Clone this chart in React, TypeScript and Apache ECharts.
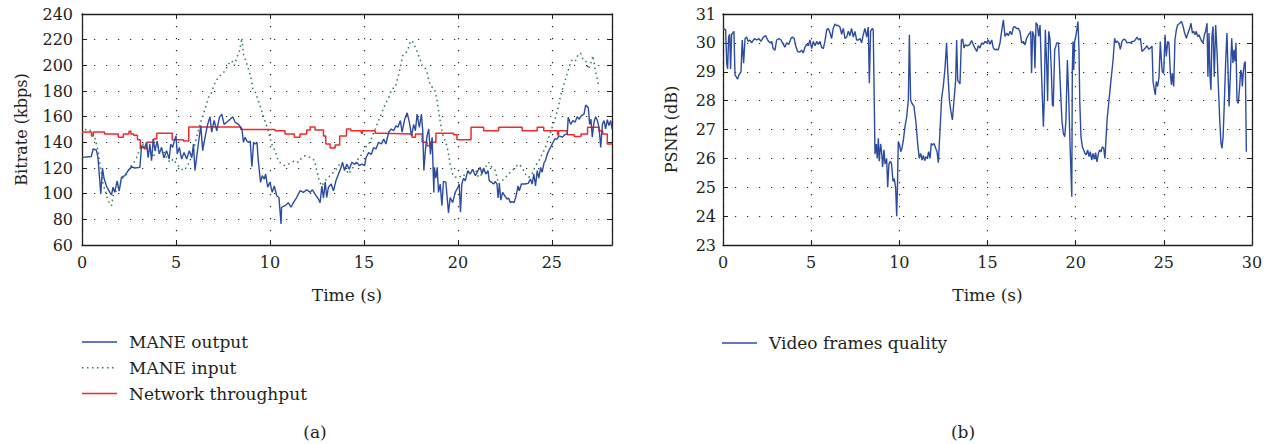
import React, { useEffect, useRef } from "react";
import * as echarts from "echarts";

const FONT = "DejaVu Serif";
const TXT = "#231f20";

// Left panel (a)
const bitrateTicks = { min: 60, max: 240, interval: 20 };
const timeMaxA = 28.2;

const maneOutput: [number, number][] = [
  [0, 128.3], [0.5, 129], [0.59, 134.8], [0.77, 134], [0.85, 128], [1.0, 99.7], [1.09, 120], [1.17, 112], [1.3, 106], [1.48, 101],
  [1.57, 99], [1.65, 105], [1.74, 101], [1.87, 110], [1.98, 102], [2.1, 112.7], [2.28, 114], [2.46, 118], [2.63, 121], [2.81, 120],
  [3.08, 120.5], [3.17, 137.4], [3.35, 136], [3.43, 140], [3.52, 128], [3.61, 138.7], [3.7, 125.7], [3.79, 142.6], [3.88, 133.5], [4.0, 141],
  [4.11, 131], [4.23, 136], [4.36, 128], [4.5, 133.5], [4.64, 127], [4.72, 138.7], [4.82, 136], [4.91, 141], [5.0, 145], [5.07, 131],
  [5.18, 136], [5.3, 127], [5.43, 132], [5.57, 127], [5.71, 133.5], [5.84, 128], [5.93, 138.7], [6.01, 118], [6.19, 138.7], [6.32, 153],
  [6.42, 133.5], [6.55, 144], [6.67, 153], [6.81, 160], [6.9, 148], [7.03, 157], [7.17, 149], [7.31, 159.5], [7.44, 162], [7.56, 154],
  [7.7, 155.6], [7.88, 158], [8.02, 160], [8.15, 155.6], [8.33, 154], [8.51, 150.4], [8.59, 140], [8.68, 144], [8.77, 141], [8.86, 140],
  [8.95, 141], [9.04, 121], [9.13, 140], [9.22, 138.7], [9.31, 140], [9.38, 125.7], [9.5, 108.8], [9.59, 114], [9.7, 111.4], [9.77, 115.3],
  [9.88, 105], [10.0, 109], [10.12, 101], [10.23, 106], [10.36, 98.4], [10.48, 97], [10.59, 76.4], [10.62, 89.4], [10.8, 90.6], [10.98, 93],
  [11.12, 89.4], [11.25, 93], [11.42, 97], [11.6, 102.3], [11.78, 101], [11.96, 103], [12.14, 101], [12.26, 103], [12.4, 99.7], [12.58, 95.8],
  [12.67, 93], [12.76, 106], [12.85, 96.6], [12.94, 109], [13.02, 97], [13.11, 105], [13.26, 107.5], [13.38, 102.3], [13.51, 110], [13.65, 115.3],
  [13.79, 120.5], [13.86, 124.4], [13.97, 118], [14.09, 123], [14.22, 119], [14.36, 124.4], [14.5, 123], [14.63, 124.4], [14.75, 121.8], [14.89, 123],
  [15.04, 121.8], [15.11, 128], [15.25, 132], [15.39, 130.6], [15.52, 136], [15.64, 134.8], [15.78, 140], [15.93, 138.7], [16.05, 142.6], [16.17, 138.7],
  [16.32, 148], [16.46, 150.4], [16.58, 149], [16.71, 153], [16.81, 151.7], [16.94, 157], [17.03, 148], [17.17, 158], [17.3, 163], [17.42, 155.6],
  [17.53, 145], [17.65, 154], [17.74, 149], [17.83, 162], [17.95, 151.7], [18.06, 162], [18.13, 149], [18.19, 118], [18.27, 133.5], [18.36, 145],
  [18.45, 150.4], [18.54, 130.6], [18.63, 144], [18.72, 101], [18.75, 120.5], [18.83, 112], [18.9, 120.5], [18.97, 101], [19.06, 107.5], [19.15, 90.6],
  [19.23, 109.5], [19.36, 109], [19.43, 97], [19.5, 85], [19.59, 97], [19.72, 93], [19.86, 101], [20.0, 105], [20.07, 107.5], [20.14, 85.5],
  [20.21, 107.5], [20.3, 112], [20.39, 110], [20.53, 118], [20.66, 115.3], [20.78, 119], [20.93, 114], [21.07, 118], [21.19, 120.5], [21.28, 115.3],
  [21.37, 120], [21.49, 115.3], [21.6, 118], [21.67, 110], [21.78, 109], [21.9, 107.5], [21.99, 109.5], [22.08, 107.5], [22.14, 96.6], [22.21, 107.5],
  [22.28, 95], [22.38, 101], [22.49, 98.4], [22.62, 95.8], [22.7, 96.6], [22.79, 93], [22.88, 93.8], [22.99, 93], [23.1, 98.4], [23.2, 106],
  [23.27, 102.3], [23.38, 107.5], [23.56, 107.5], [23.74, 108], [23.86, 111.4], [23.95, 107.5], [24.04, 115.3], [24.13, 106], [24.22, 118], [24.31, 112],
  [24.4, 120.5], [24.48, 116.6], [24.59, 124.4], [24.66, 125.7], [24.75, 130.6], [24.84, 133.5], [24.93, 136], [25.02, 138.7], [25.16, 142.6], [25.28, 142.6],
  [25.37, 145], [25.55, 144], [25.69, 146], [25.82, 146.5], [25.87, 159.5], [26.0, 154], [26.12, 157], [26.23, 155.6], [26.35, 160], [26.44, 158],
  [26.58, 160.8], [26.71, 162], [26.8, 169], [26.94, 167], [27.01, 154], [27.08, 158], [27.15, 144], [27.24, 155.6], [27.33, 160], [27.42, 157],
  [27.51, 151.7], [27.6, 136], [27.69, 154], [27.78, 157], [27.86, 150.4], [27.95, 157.6], [28.04, 153], [28.13, 157], [28.2, 150.4],
];

const maneInput: [number, number][] = [
  [0, 146.5], [0.23, 150.4], [0.5, 149], [0.68, 144], [0.85, 133.5], [0.98, 120.5], [1.12, 107.5], [1.26, 101], [1.39, 94.5], [1.57, 90.6],
  [1.65, 98.4], [1.83, 102.3], [2.01, 107.5], [2.19, 112.7], [2.37, 115.3], [2.54, 120.5], [2.72, 123], [2.9, 128], [3.08, 134.8], [3.26, 138.7],
  [3.43, 136], [3.61, 133.5], [3.79, 128], [3.97, 136], [4.15, 137.4], [4.32, 133.5], [4.5, 128], [4.68, 124.4], [4.86, 127], [5.04, 123],
  [5.21, 120.5], [5.39, 118], [5.57, 120.5], [5.75, 125.7], [5.93, 133.5], [6.1, 144], [6.28, 154], [6.46, 162], [6.6, 168.6], [6.73, 175],
  [6.9, 179], [7.08, 186.8], [7.26, 190.6], [7.44, 193.2], [7.62, 195.8], [7.79, 201], [7.97, 203.6], [8.1, 199.7], [8.24, 206.2], [8.38, 211.4],
  [8.51, 221.3], [8.59, 208.8], [8.74, 202.3], [8.86, 197], [8.99, 190.6], [9.09, 181.6], [9.2, 180], [9.38, 172.5], [9.56, 164.7], [9.73, 157],
  [9.91, 149], [10.09, 138.7], [10.27, 133.5], [10.44, 125.7], [10.62, 123], [10.8, 121.8], [10.98, 123], [11.16, 124.4], [11.33, 125.7], [11.51, 124.4],
  [11.69, 128], [11.87, 129.6], [12.05, 128.6], [12.22, 128], [12.37, 125.7], [12.49, 118], [12.62, 110], [12.76, 106], [12.94, 110], [13.11, 112.7],
  [13.29, 115.3], [13.47, 118], [13.65, 121.8], [13.83, 124.4], [14.0, 120.5], [14.18, 115.3], [14.36, 119], [14.54, 123], [14.72, 128], [14.89, 130.6],
  [15.07, 136], [15.25, 138.7], [15.43, 144], [15.6, 150.4], [15.78, 157], [15.96, 163.4], [16.14, 169.9], [16.32, 175], [16.49, 181.6], [16.67, 182.9],
  [16.81, 190.6], [16.94, 198.4], [17.06, 207.5], [17.21, 208.8], [17.35, 212.7], [17.47, 219.2], [17.6, 218], [17.74, 214], [17.88, 208.8], [18.01, 203.6],
  [18.1, 199.7], [18.24, 198.4], [18.36, 194.5], [18.45, 188], [18.59, 183.4], [18.75, 181.6], [18.88, 173.8], [19.0, 162], [19.11, 151.7], [19.23, 144],
  [19.36, 140], [19.47, 133.5], [19.59, 123], [19.72, 115.3], [19.86, 112.7], [20.04, 114], [20.21, 112.7], [20.39, 115.3], [20.57, 116.6], [20.75, 118],
  [20.93, 119], [21.1, 112.7], [21.28, 115.3], [21.46, 120.5], [21.64, 124.4], [21.81, 120.5], [21.99, 118], [22.17, 107.5], [22.35, 110], [22.53, 112.7],
  [22.7, 115.3], [22.88, 118], [23.06, 120.5], [23.24, 123], [23.42, 120.5], [23.59, 115.3], [23.77, 112.7], [23.95, 115.3], [24.13, 121.8], [24.31, 125.7],
  [24.48, 130.6], [24.66, 136], [24.84, 144], [25.02, 151.7], [25.2, 159.5], [25.34, 167.3], [25.46, 176.4], [25.59, 182.9], [25.73, 189.4], [25.87, 195.8],
  [26.0, 202.3], [26.12, 204.9], [26.26, 203.6], [26.41, 208.8], [26.53, 209.4], [26.65, 204.9], [26.8, 203.6], [26.94, 197], [27.06, 201], [27.19, 207.5],
  [27.3, 197], [27.42, 189.4], [27.47, 185.5],
];

const networkThroughput: [number, number][] = [
  [0, 148], [0.5, 145], [0.6, 148], [1.2, 146.5], [1.93, 144], [2.2, 146.5], [2.5, 148.6], [2.6, 146.5], [2.75, 145.5], [2.95, 142],
  [3.1, 136], [3.3, 135], [3.45, 140], [3.8, 142.6], [3.98, 147], [4.8, 142], [5.4, 141], [5.68, 152], [8.45, 150], [10.27, 149],
  [10.8, 146.5], [11.3, 144], [11.6, 146.5], [11.96, 149.6], [12.14, 152], [12.4, 149.6], [12.85, 145], [12.97, 138.7], [13.2, 135.6], [13.47, 138],
  [13.71, 145], [14.07, 150.4], [14.3, 149], [14.86, 147], [14.92, 149], [15.6, 147], [15.96, 146.5], [17.56, 144], [17.74, 146.5], [18.1, 140],
  [18.36, 137.4], [18.54, 140], [18.83, 147], [19.77, 146], [19.95, 142], [20.7, 151.7], [21.37, 149], [22.17, 151.7], [23.42, 149], [24.22, 151.7],
  [24.57, 149], [25.3, 146], [25.36, 149], [25.82, 146], [26.2, 144.5], [26.55, 146.5], [26.9, 151.7], [27.5, 149], [27.7, 146.5], [27.95, 138.7],
  [28.2, 138.7],
];

// Right panel (b)
const psnrTicks = { min: 23, max: 31, interval: 1 };
const timeMaxB = 30;

const videoQuality: [number, number][] = [
  [0, 30.5], [0.05, 30.5], [0.15, 30.45], [0.21, 29.3], [0.26, 29.1], [0.32, 30.2], [0.38, 30.3], [0.43, 29.1], [0.49, 30.3], [0.57, 30.35],
  [0.62, 30.4], [0.68, 28.9], [0.77, 28.8], [0.83, 28.75], [0.91, 28.9], [1.02, 29.0], [1.09, 30.1], [1.17, 29.3], [1.25, 30.15], [1.34, 30.2],
  [1.43, 30.05], [1.53, 30.1], [1.62, 30.0], [1.78, 30.15], [1.91, 30.1], [2.04, 30.15], [2.15, 30.05], [2.29, 30.2], [2.42, 30.25], [2.53, 30.1],
  [2.66, 30.0], [2.76, 30.05], [2.85, 29.8], [2.95, 29.75], [3.04, 30.1], [3.17, 30.15], [3.29, 30.1], [3.42, 29.95], [3.51, 29.85], [3.61, 30.0],
  [3.74, 29.95], [3.85, 30.15], [3.93, 30.2], [4.04, 30.15], [4.12, 29.9], [4.23, 29.7], [4.36, 29.68], [4.46, 29.75], [4.55, 29.65], [4.65, 29.85],
  [4.74, 29.95], [4.84, 29.9], [4.93, 30.1], [5.03, 29.8], [5.12, 30.05], [5.22, 29.9], [5.31, 30.05], [5.4, 29.95], [5.5, 30.05], [5.59, 29.85],
  [5.69, 29.8], [5.78, 30.05], [5.88, 30.45], [5.97, 30.5], [6.07, 30.35], [6.16, 30.15], [6.25, 30.5], [6.35, 30.65], [6.44, 30.6], [6.54, 30.6],
  [6.63, 30.55], [6.73, 30.3], [6.82, 30.5], [6.92, 30.15], [7.01, 30.2], [7.11, 30.4], [7.2, 30.25], [7.29, 30.5], [7.39, 30.2], [7.48, 30.4],
  [7.58, 30.1], [7.67, 30.1], [7.77, 30.15], [7.86, 30.0], [7.96, 30.3], [8.05, 30.5], [8.15, 30.2], [8.24, 30.55], [8.3, 28.6], [8.37, 30.4],
  [8.47, 30.5], [8.52, 30.45], [8.62, 26.15], [8.69, 26.5], [8.75, 26.0], [8.81, 26.7], [8.86, 25.9], [8.94, 26.5], [9.0, 26.2], [9.05, 25.7],
  [9.13, 26.3], [9.19, 25.8], [9.28, 26.0], [9.34, 25.0], [9.41, 25.8], [9.49, 25.9], [9.56, 25.8], [9.64, 25.2], [9.71, 25.3], [9.79, 25.0],
  [9.85, 24.0], [9.89, 24.9], [9.94, 26.58], [10.0, 26.5], [10.08, 26.23], [10.15, 26.35], [10.23, 26.64], [10.32, 27.1], [10.42, 27.45], [10.51, 28.02],
  [10.57, 30.28], [10.64, 28.02], [10.72, 27.9], [10.83, 27.8], [10.95, 27.2], [11.04, 26.5], [11.13, 26.0], [11.21, 26.17], [11.29, 25.94], [11.36, 26.1],
  [11.44, 25.92], [11.51, 26.06], [11.59, 26.0], [11.66, 26.23], [11.74, 26.0], [11.81, 26.52], [11.89, 26.46], [11.97, 26.52], [12.06, 26.35], [12.14, 26.23],
  [12.21, 25.85], [12.31, 27.0], [12.4, 28.08], [12.5, 28.54], [12.59, 29.12], [12.68, 30.0], [12.74, 29.1], [12.84, 28.02], [12.91, 27.68], [13.01, 27.33],
  [13.1, 28.02], [13.19, 28.66], [13.25, 30.1], [13.31, 28.7], [13.36, 28.66], [13.44, 28.58], [13.52, 30.1], [13.59, 30.13], [13.67, 29.82], [13.74, 29.93],
  [13.86, 29.9], [13.97, 29.93], [14.1, 30.08], [14.2, 29.93], [14.29, 29.82], [14.39, 29.7], [14.48, 29.9], [14.57, 29.82], [14.67, 30.0], [14.76, 29.95],
  [14.86, 30.05], [14.95, 30.0], [15.05, 30.1], [15.14, 29.95], [15.24, 30.1], [15.33, 29.82], [15.43, 29.76], [15.52, 29.78], [15.61, 29.76], [15.71, 30.0],
  [15.8, 30.4], [15.9, 30.8], [15.99, 30.22], [16.09, 30.34], [16.18, 30.25], [16.28, 30.4], [16.37, 30.28], [16.47, 30.54], [16.56, 30.56], [16.65, 30.5],
  [16.75, 30.5], [16.84, 30.4], [16.94, 30.0], [17.03, 30.05], [17.13, 29.93], [17.22, 30.16], [17.32, 30.28], [17.41, 30.34], [17.45, 30.4], [17.5, 28.95],
  [17.56, 30.4], [17.64, 30.22], [17.69, 29.12], [17.75, 30.7], [17.83, 30.62], [17.9, 30.22], [17.98, 30.62], [18.07, 28.83], [18.17, 27.1], [18.22, 28.02],
  [18.28, 30.45], [18.36, 29.18], [18.41, 28.02], [18.47, 30.4], [18.54, 30.16], [18.62, 29.06], [18.68, 27.85], [18.73, 27.8], [18.81, 29.76], [18.87, 29.87],
  [18.92, 30.0], [19.02, 30.0], [19.07, 29.41], [19.15, 28.25], [19.22, 27.33], [19.3, 26.87], [19.38, 26.75], [19.45, 27.33], [19.53, 29.41], [19.6, 28.25],
  [19.68, 26.52], [19.78, 24.67], [19.81, 29.06], [19.85, 30.05], [19.89, 29.06], [19.94, 30.05], [20.0, 30.2], [20.08, 30.5], [20.13, 30.74], [20.19, 29.76],
  [20.23, 28.02], [20.3, 26.75], [20.38, 26.4], [20.45, 26.29], [20.53, 26.17], [20.6, 26.12], [20.68, 26.29], [20.76, 26.06], [20.83, 26.23], [20.91, 25.94],
  [20.98, 26.17], [21.06, 25.97], [21.13, 26.2], [21.21, 25.88], [21.29, 26.17], [21.36, 26.29], [21.44, 26.23], [21.51, 26.4], [21.59, 26.35], [21.66, 26.0],
  [21.78, 27.33], [21.97, 28.5], [22.12, 29.4], [22.21, 30.16], [22.27, 30.0], [22.34, 30.07], [22.44, 30.0], [22.53, 29.78], [22.63, 30.05], [22.72, 30.13],
  [22.82, 30.1], [22.91, 30.0], [23.01, 30.02], [23.1, 30.0], [23.19, 30.05], [23.29, 30.05], [23.38, 30.1], [23.48, 30.2], [23.57, 30.1], [23.67, 30.16],
  [23.76, 29.7], [23.86, 29.76], [23.95, 29.82], [24.05, 29.9], [24.14, 29.78], [24.23, 29.82], [24.33, 29.88], [24.39, 28.66], [24.46, 28.37], [24.52, 28.2],
  [24.57, 28.66], [24.65, 28.49], [24.73, 28.83], [24.8, 30.05], [24.86, 29.41], [24.91, 29.0], [24.99, 28.95], [25.07, 30.28], [25.14, 29.53], [25.22, 30.05],
  [25.29, 30.0], [25.37, 28.95], [25.43, 28.54], [25.48, 28.95], [25.56, 28.49], [25.63, 30.1], [25.71, 30.45], [25.78, 30.62], [25.9, 30.68], [26.01, 30.74],
  [26.09, 30.57], [26.18, 30.34], [26.28, 30.16], [26.37, 30.34], [26.47, 30.51], [26.54, 30.68], [26.62, 30.34], [26.69, 30.4], [26.77, 30.28], [26.84, 30.4],
  [26.92, 30.22], [26.99, 30.28], [27.07, 30.16], [27.15, 30.05], [27.22, 30.0], [27.3, 30.28], [27.37, 30.4], [27.45, 30.68], [27.5, 28.83], [27.56, 30.34],
  [27.62, 28.83], [27.67, 28.37], [27.73, 30.22], [27.79, 30.57], [27.86, 28.83], [27.94, 30.62], [28.02, 29.64], [28.07, 28.83], [28.17, 27.33], [28.24, 26.52],
  [28.3, 26.35], [28.36, 26.75], [28.43, 27.9], [28.51, 29.41], [28.58, 30.34], [28.64, 29.06], [28.7, 27.8], [28.77, 28.83], [28.85, 30.16], [28.92, 29.3],
  [28.98, 29.76], [29.04, 29.36], [29.09, 30.0], [29.15, 28.0], [29.22, 27.9], [29.3, 28.49], [29.36, 29.06], [29.41, 28.95], [29.45, 28.49], [29.51, 29.0],
  [29.57, 29.3], [29.62, 29.35], [29.68, 26.23],
];

const legendA = ["MANE output", "MANE input", "Network throughput"];
const legendB = ["Video frames quality"];
const panelLabels = ["(a)", "(b)"];

const BLUE = "#2c4c9f";
const GREEN = "#2f7a4c";
const RED = "#ee2a2d";

const styleOutput = { color: BLUE, width: 1.4, dash: null as number[] | null };
const styleInput = { color: GREEN, width: 1.5, dash: [1.5, 3.5] };
const styleNet = { color: RED, width: 1.5, dash: null as number[] | null };
const styleVideo = { color: BLUE, width: 1.4, dash: null as number[] | null };

const labelStyle = { fontFamily: FONT, fontSize: 16, color: TXT };
const gridDots = { show: true, lineStyle: { color: "#222", width: 1.2, type: [1.2, 10.8] as any } };
const axisLine = { show: true, onZero: false, lineStyle: { color: TXT, width: 1.3 } };
const tick = { show: true, inside: true, length: 5, lineStyle: { color: TXT, width: 1 } };

function mainX(gridIndex: number, max: number) {
  return {
    type: "value", gridIndex, min: 0, max, interval: 5, position: "bottom",
    name: "Time (s)", nameLocation: "middle", nameGap: 41,
    nameTextStyle: { fontFamily: FONT, fontSize: 17, color: TXT },
    axisLine, axisTick: tick, splitLine: gridDots,
    axisLabel: { ...labelStyle, margin: 9, showMaxLabel: max % 5 === 0, formatter: (v: number) => (v % 5 === 0 ? String(v) : "") },
  };
}
function topX(gridIndex: number, max: number) {
  return {
    type: "value", gridIndex, min: 0, max, interval: 5, position: "top",
    axisLine, axisTick: tick, splitLine: { show: false }, axisLabel: { show: false },
  };
}
function mainY(gridIndex: number, t: any, name: string, gap: number, margin: number) {
  return {
    type: "value", gridIndex, min: t.min, max: t.max, interval: t.interval, position: "left",
    name, nameLocation: "middle", nameGap: gap,
    nameTextStyle: { fontFamily: FONT, fontSize: 16, color: TXT },
    axisLine, axisTick: tick, splitLine: gridDots,
    axisLabel: { ...labelStyle, margin },
  };
}
function rightY(gridIndex: number, t: any) {
  return {
    type: "value", gridIndex, min: t.min, max: t.max, interval: t.interval, position: "right",
    axisLine, axisTick: tick, splitLine: { show: false }, axisLabel: { show: false },
  };
}

function legendItems(names: string[], styles: any[], x: number, y0: number, rowGap: number) {
  const out: any[] = [];
  names.forEach((name, i) => {
    const y = y0 + i * rowGap;
    const s = styles[i];
    out.push({
      type: "line", silent: true,
      shape: { x1: x, y1: y, x2: x + 35, y2: y },
      style: { stroke: s.color, lineWidth: s.width, lineDash: s.dash || undefined },
    });
    out.push({
      type: "text", silent: true, x: x + 47, y,
      style: { text: name, fontFamily: FONT, fontSize: 17, fill: TXT, align: "left", verticalAlign: "middle", textAlign: "left", textVerticalAlign: "middle" },
    });
  });
  return out;
}

export default function App() {
  const ref = useRef<HTMLDivElement>(null);
  useEffect(() => {
    if (!ref.current) return;
    const chart = echarts.init(ref.current, undefined, { renderer: "svg" });
    const lineStyle = (s: any) => ({ color: s.color, width: s.width, type: s.dash || "solid" });
    chart.setOption({
      animation: false,
      backgroundColor: "#ffffff",
      grid: [
        { left: 82, top: 14, width: 530, height: 231 },
        { left: 723, top: 14, width: 529, height: 231 },
      ],
      xAxis: [mainX(0, timeMaxA), topX(0, timeMaxA), mainX(1, timeMaxB), topX(1, timeMaxB)],
      yAxis: [
        mainY(0, bitrateTicks, "Bitrate (kbps)", 53, 9),
        rightY(0, bitrateTicks),
        mainY(1, psnrTicks, "PSNR (dB)", 44, 7),
        rightY(1, psnrTicks),
      ],
      graphic: [
        ...legendItems(legendA, [styleOutput, styleInput, styleNet], 82, 342, 25.8),
        ...legendItems(legendB, [styleVideo], 722, 343, 26),
        { type: "text", silent: true, x: 315, y: 432, style: { text: panelLabels[0], fontFamily: FONT, fontSize: 17, fill: TXT, align: "center", verticalAlign: "middle", textAlign: "center", textVerticalAlign: "middle" } },
        { type: "text", silent: true, x: 963, y: 432, style: { text: panelLabels[1], fontFamily: FONT, fontSize: 17, fill: TXT, align: "center", verticalAlign: "middle", textAlign: "center", textVerticalAlign: "middle" } },
      ],
      series: [
        {
          name: legendA[1], type: "line", xAxisIndex: 0, yAxisIndex: 0, data: maneInput,
          symbol: "none", showSymbol: false, color: GREEN, lineStyle: lineStyle(styleInput),
        },
        {
          name: legendA[2], type: "line", step: "end", xAxisIndex: 0, yAxisIndex: 0, data: networkThroughput,
          symbol: "none", showSymbol: false, color: RED, lineStyle: lineStyle(styleNet),
        },
        {
          name: legendA[0], type: "line", xAxisIndex: 0, yAxisIndex: 0, data: maneOutput,
          symbol: "none", showSymbol: false, color: BLUE, lineStyle: lineStyle(styleOutput),
        },
        {
          name: legendB[0], type: "line", xAxisIndex: 2, yAxisIndex: 2, data: videoQuality,
          symbol: "none", showSymbol: false, color: BLUE, lineStyle: lineStyle(styleVideo),
        },
      ],
    });
    return () => chart.dispose();
  }, []);
  return (
    <div
      ref={ref}
      style={{ position: "fixed", left: 0, top: 0, width: 1272, height: 444, background: "#fff" }}
    />
  );
}
